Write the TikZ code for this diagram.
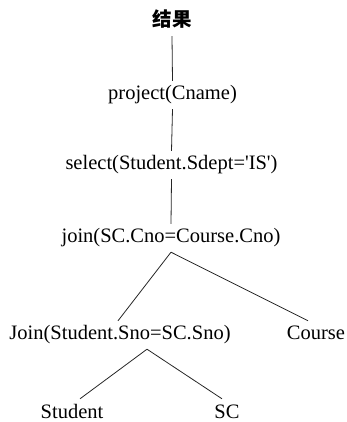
\documentclass[tikz,border=0pt]{standalone}
\usepackage{fontspec}
\setmainfont{Liberation Serif}
\newfontfamily\cjk{Noto Sans CJK SC}
\usepackage{tikz}

\begin{document}
\begin{tikzpicture}[x=1pt,y=1pt,
    every node/.style={font=\fontsize{20.5}{24}\selectfont, inner xsep=0pt,
        inner ysep=4pt, text height=15pt, text depth=5pt},
    edge/.style={draw=black!85, line width=0.8pt}]
    \useasboundingbox (0,0) rectangle (347,422);

    \node (res)    at (172,400)   {\cjk\bfseries\fontsize{19.5}{24}\selectfont 结果};
    \node (proj)   at (172.5,327) {project(Cname)};
    \node (sel)    at (171.5,257) {select(Student.Sdept=\textquotesingle IS\textquotesingle)};
    \node (join)   at (171,184)   {join(SC.Cno=Course.Cno)};
    \node (join2)  at (120,87)    {Join(Student.Sno=SC.Sno)};
    \node (course) at (316,87)    {Course};
    \node (stu)    at (72,9)      {Student};
    \node (sc)     at (227,9)     {SC};

    \draw[edge] (res.south) -- (proj.north);
    \draw[edge] (proj.south) -- (sel.north);
    \draw[edge] (sel.south) -- (join.north);
    \draw[edge] (join.south) -- ([xshift=-2pt]join2.north);
    \draw[edge] (join.south) -- ([xshift=-8pt]course.north);
    \draw[edge] ([xshift=27pt]join2.south) -- ([xshift=8pt]stu.north);
    \draw[edge] ([xshift=27pt]join2.south) -- ([xshift=-5pt]sc.north);

\end{tikzpicture}
\end{document}
